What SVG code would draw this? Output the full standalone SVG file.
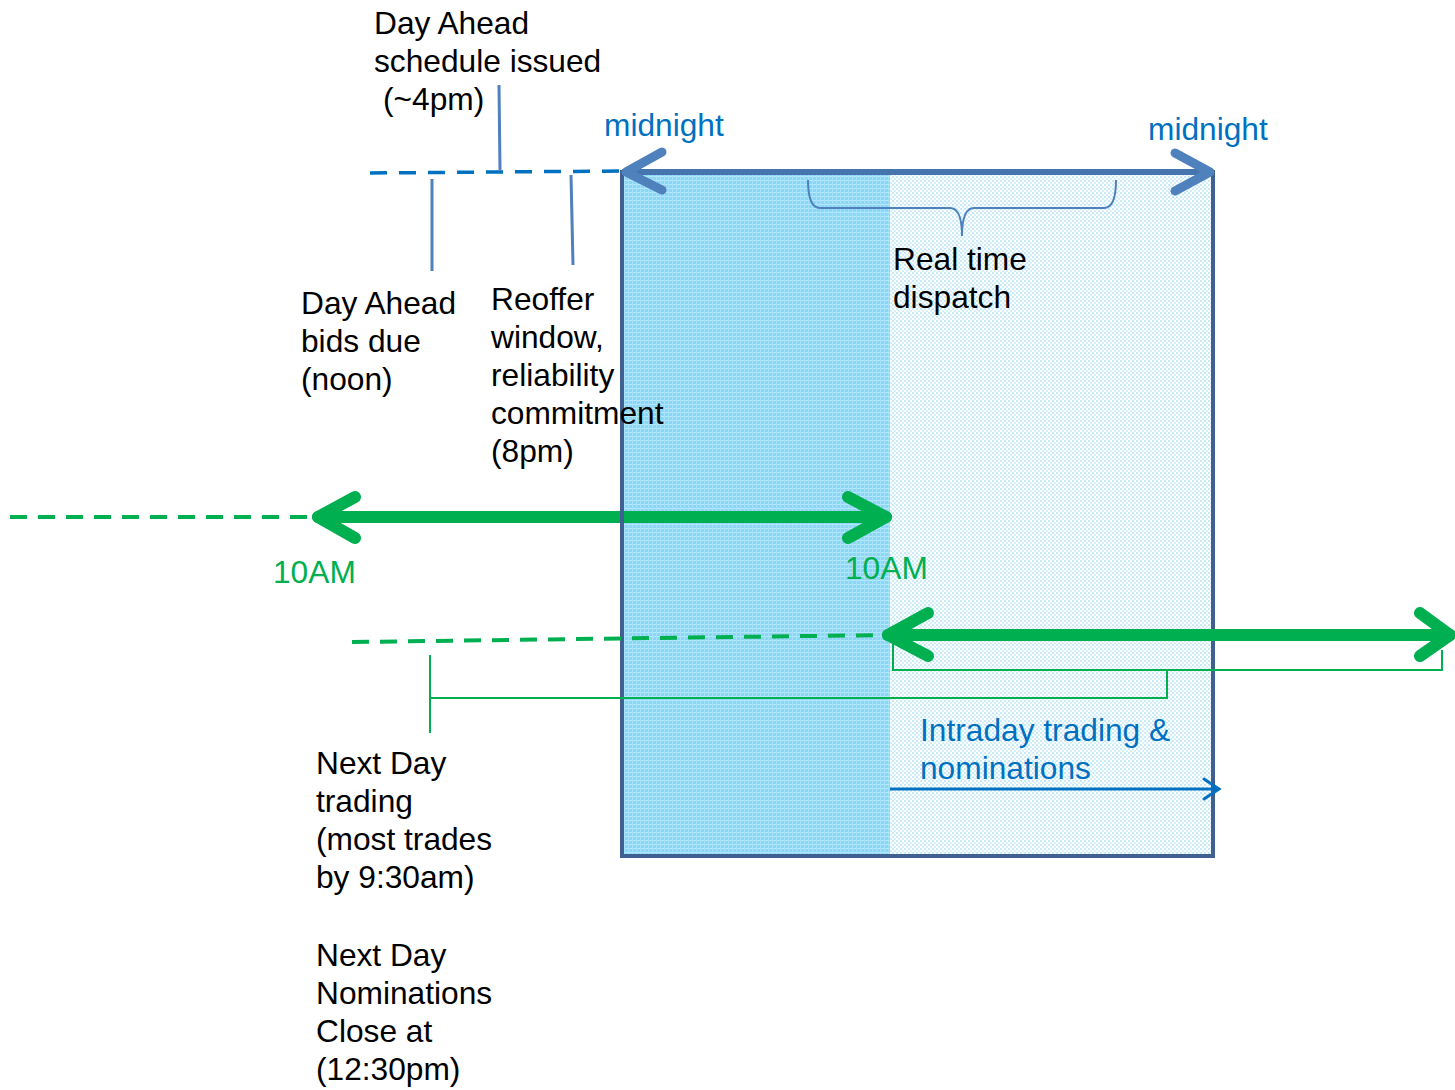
<svg xmlns="http://www.w3.org/2000/svg" width="1455" height="1090" viewBox="0 0 1455 1090">
<style>
text{font-family:"Liberation Sans",Arial,sans-serif;font-size:31.7px}
.k{fill:#000}
.b{fill:#0070c0}
.g{fill:#00b050}
.tick{stroke:#4f81bd;stroke-width:3;fill:none}
.bdash{stroke:#0070c0;stroke-width:3.5;stroke-dasharray:17 12;fill:none}
.gdash{stroke:#00b050;stroke-width:4;stroke-dasharray:17 11;fill:none}
.gthick{stroke:#00b050;stroke-width:12;fill:none;stroke-linecap:round;stroke-linejoin:round}
.mid{stroke:#4f81bd;stroke-width:9;fill:none;stroke-linecap:round;stroke-linejoin:round}
.gthin{stroke:#00b050;stroke-width:2;fill:none}
</style>
<defs>
<pattern id="pdark" width="4" height="4" patternUnits="userSpaceOnUse">
<rect width="4" height="4" fill="#88d7f7"/>
<rect width="4" height="1" fill="#b9e8fb"/>
<rect x="0" y="0" width="1" height="4" fill="#a6e1f9"/>
</pattern>
<pattern id="plight" width="4" height="4" patternUnits="userSpaceOnUse">
<rect width="4" height="4" fill="#ffffff"/>
<rect width="2" height="2" fill="#c6ebfa"/>
<rect x="2" y="2" width="2" height="2" fill="#d3f0fb"/>
</pattern>
</defs>

<g id="day-box">
<rect x="622" y="172" width="268" height="684" fill="url(#pdark)"/>
<rect x="890" y="172" width="323" height="684" fill="url(#plight)"/>
</g>

<g id="connectors">
<path class="bdash" d="M370 173 L622 171"/>
<path class="tick" d="M499 85 L500 171"/>
<path class="tick" d="M432 179 L432 271"/>
<path class="tick" d="M571 175 L573 265"/>
<path d="M808 180 Q808 208 820 208 L950 208 Q962 208 962 236 Q962 208 974 208 L1104 208 Q1116 208 1116 180" stroke="#4f81bd" stroke-width="2" fill="none"/>
<path class="gdash" d="M10 517 L315 517"/>
<path class="gthick" d="M318 517 L886 517"/>
<path class="gthick" d="M355 497 L318 517 L355 538"/>
<path class="gthick" d="M848 497 L886 517 L848 538"/>
</g>

<g id="day-box-border">
<rect x="622" y="172" width="591" height="684" fill="none" stroke="#3f6091" stroke-width="4"/>
<path d="M622 172 L1213 172" stroke="#4674ad" stroke-width="6"/>
</g>

<g id="midnight-arrows">
<path class="mid" d="M662 152 L626 172 L662 190"/>
<path class="mid" d="M1175 153 L1210 172 L1175 191"/>
</g>

<g id="intraday-connectors">
<path class="gdash" d="M352 642 L885 635" stroke-width="3.5"/>
<path class="gthick" d="M888 635 L1450 635"/>
<path class="gthick" d="M928 613 L888 635 L928 656"/>
<path class="gthick" d="M1420 613 L1450 635 L1420 656"/>
<path class="gthin" d="M893 640 L893 670 L1442 670 L1442 650"/>
<path class="gthin" d="M1167 670 L1167 698 L430 698"/>
<path class="gthin" d="M430 655 L430 733"/>
<path d="M890 789 L1218 789" stroke="#0070c0" stroke-width="3" fill="none"/>
<path d="M1204 779 L1219 789 L1204 799" stroke="#0070c0" stroke-width="3" fill="none" stroke-linecap="round"/>
</g>

<g id="label-da-schedule">
<text class="k" x="374" y="34">Day Ahead</text>
<text class="k" x="374" y="72">schedule issued</text>
<text class="k" x="383" y="110">(~4pm)</text>
</g>
<g id="label-midnight-1"><text class="b" x="604" y="136">midnight</text></g>
<g id="label-midnight-2"><text class="b" x="1148" y="140">midnight</text></g>
<g id="label-realtime">
<text class="k" x="893" y="270">Real time</text>
<text class="k" x="893" y="308">dispatch</text>
</g>
<g id="label-bids">
<text class="k" x="301" y="314">Day Ahead</text>
<text class="k" x="301" y="352">bids due</text>
<text class="k" x="301" y="390">(noon)</text>
</g>
<g id="label-reoffer">
<text class="k" x="491" y="310">Reoffer</text>
<text class="k" x="491" y="348">window,</text>
<text class="k" x="491" y="386">reliability</text>
<text class="k" x="491" y="424">commitment</text>
<text class="k" x="491" y="462">(8pm)</text>
</g>
<g id="label-10am-1"><text class="g" x="273" y="583">10AM</text></g>
<g id="label-10am-2"><text class="g" x="845" y="579">10AM</text></g>
<g id="label-intraday">
<text class="b" x="920" y="741">Intraday trading &amp;</text>
<text class="b" x="920" y="779">nominations</text>
</g>
<g id="label-nextday">
<text class="k" x="316" y="774">Next Day</text>
<text class="k" x="316" y="812">trading</text>
<text class="k" x="316" y="850">(most trades</text>
<text class="k" x="316" y="888">by 9:30am)</text>
<text class="k" x="316" y="966">Next Day</text>
<text class="k" x="316" y="1004">Nominations</text>
<text class="k" x="316" y="1042">Close at</text>
<text class="k" x="316" y="1080">(12:30pm)</text>
</g>
</svg>
